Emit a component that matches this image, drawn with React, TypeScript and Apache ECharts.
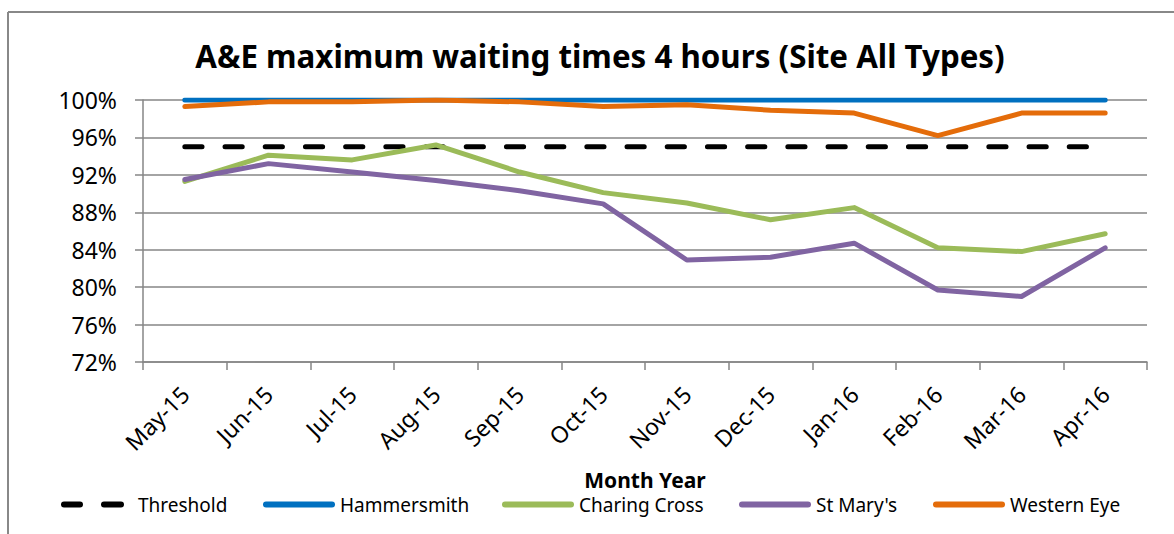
import React, { useEffect, useRef } from "react";
import * as echarts from "echarts";

const months = ["May-15", "Jun-15", "Jul-15", "Aug-15", "Sep-15", "Oct-15", "Nov-15", "Dec-15", "Jan-16", "Feb-16", "Mar-16", "Apr-16"];
const threshold = [95, 95, 95, 95, 95, 95, 95, 95, 95, 95, 95, 95];
const hammersmith = [100, 100, 100, 100, 100, 100, 100, 100, 100, 100, 100, 100];
const charingCross = [91.3, 94.1, 93.6, 95.2, 92.3, 90.1, 89.0, 87.2, 88.5, 84.2, 83.8, 85.7];
const stMarys = [91.5, 93.2, 92.3, 91.4, 90.3, 88.9, 82.9, 83.2, 84.7, 79.7, 79.0, 84.2];
const westernEye = [99.3, 99.8, 99.8, 100.0, 99.8, 99.3, 99.5, 98.9, 98.6, 96.2, 98.6, 98.6];
const yTicks = [72, 76, 80, 84, 88, 92, 96, 100];

const FONT = "Noto Sans";
const SOLID_ICON = "path://M3,0h66a3,3 0 0 1 0,6h-66a3,3 0 0 1 0,-6z";
const DASH_ICON = "path://M3,0h16a3,3 0 0 1 0,6h-16a3,3 0 0 1 0,-6z M43,0h17a3,3 0 0 1 0,6h-17a3,3 0 0 1 0,-6z";

export default function App() {
  const ref = useRef<HTMLDivElement>(null);
  useEffect(() => {
    const chart = echarts.init(ref.current!, null, { renderer: "svg" });
    const mk = (name: string, data: number[], color: string, dashed = false) => ({
      name,
      type: "line",
      data,
      symbol: "none",
      lineStyle: {
        color,
        width: 5,
        type: dashed ? [17.2, 23] : "solid",
        cap: "round",
        join: "round",
      },
      itemStyle: { color },
      z: dashed ? 2 : 3,
    });
    const legendItem = (name: string, left: number, w: number, icon: string, textPad = 0) => ({
      show: true,
      left,
      top: 495,
      padding: 0,
      itemWidth: w,
      itemHeight: 6,
      icon,
      data: [name],
      textStyle: { fontFamily: FONT, fontSize: 19, color: "#000", padding: [0, 0, 0, textPad] },
      selectedMode: false,
    });
    chart.setOption({
      animation: false,
      backgroundColor: "#fff",
      title: {
        text: "A&E maximum waiting times 4 hours (Site All Types)",
        left: 595,
        textAlign: "center",
        top: 35,
        textStyle: { fontFamily: FONT, fontWeight: "bold", fontSize: 31.3, color: "#000" },
      },
      legend: [
        legendItem("Threshold", 61, 63, DASH_ICON, 9),
        legendItem("Hammersmith", 263, 72, SOLID_ICON),
        legendItem("Charing Cross", 502, 72, SOLID_ICON),
        legendItem("St Mary's", 739, 72, SOLID_ICON),
        legendItem("Western Eye", 933, 72, SOLID_ICON),
      ],
      grid: { left: 143, right: 27, top: 100, bottom: 172, containLabel: false },
      xAxis: {
        type: "category",
        data: months,
        boundaryGap: true,
        name: "Month Year",
        nameLocation: "middle",
        nameGap: 107,
        nameTextStyle: { fontFamily: FONT, fontWeight: "bold", fontSize: 21, color: "#000" },
        axisLine: { lineStyle: { color: "#868686", width: 1.5 } },
        axisTick: { show: true, length: 8, lineStyle: { color: "#868686", width: 1.5 } },
        axisLabel: {
          rotate: 45,
          margin: 28,
          fontFamily: FONT,
          fontSize: 23,
          color: "#000",
        },
        splitLine: { show: false },
      },
      yAxis: {
        type: "value",
        min: yTicks[0],
        max: yTicks[yTicks.length - 1],
        interval: 4,
        axisLine: { show: true, lineStyle: { color: "#868686", width: 1.5 } },
        axisTick: { show: true, length: 8, lineStyle: { color: "#868686", width: 1.5 } },
        axisLabel: {
          formatter: (v: number) => `${v}%`,
          margin: 26,
          fontFamily: FONT,
          fontSize: 23,
          color: "#000",
        },
        splitLine: { show: true, lineStyle: { color: "#868686", width: 1.5 } },
      },
      graphic: [
        { type: "line", shape: { x1: 8, y1: 12, x2: 8, y2: 534 }, style: { stroke: "#888", lineWidth: 2 } },
        { type: "line", shape: { x1: 8, y1: 12, x2: 1174, y2: 12 }, style: { stroke: "#888", lineWidth: 2 } },
      ],
      series: [
        mk("Threshold", threshold, "#000000", true),
        mk("Hammersmith", hammersmith, "#0070C0"),
        mk("Charing Cross", charingCross, "#9BBB59"),
        mk("St Mary's", stMarys, "#8064A2"),
        mk("Western Eye", westernEye, "#E46C0A"),
      ],
    });
    return () => chart.dispose();
  }, []);
  return (
    <div
      ref={ref}
      style={{ position: "fixed", left: 0, top: 0, width: 1174, height: 534, background: "#fff" }}
    />
  );
}
